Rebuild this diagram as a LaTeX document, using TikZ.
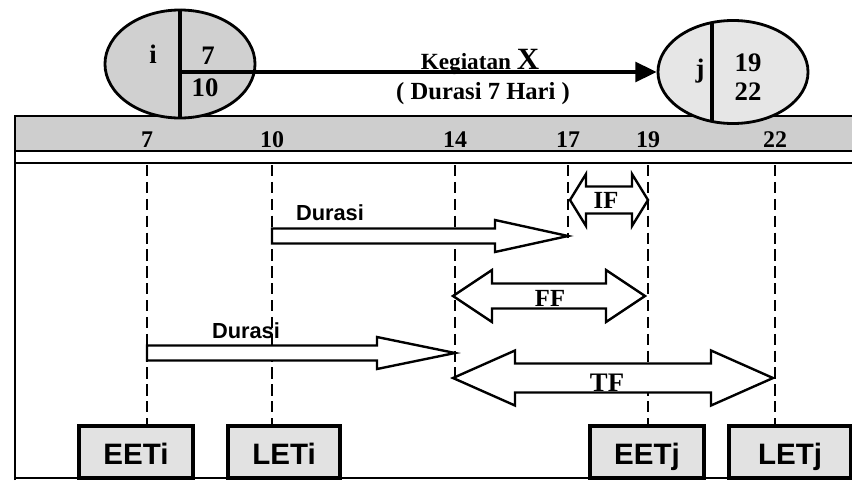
\documentclass[tikz,border=0pt]{standalone}
\usepackage{fontspec}
\setmainfont{Liberation Serif}
\setsansfont{Liberation Sans}
\usepackage{tikz}
\usetikzlibrary{shapes.geometric, arrows.meta, positioning}
\definecolor{eventfill}{RGB}{208, 208, 208}
\definecolor{eventfillj}{RGB}{230, 230, 230}
\definecolor{bandfill}{RGB}{206, 206, 206}
\definecolor{boxfill}{RGB}{226, 226, 226}

\newcommand{\durasiarrow}[4]{%
  \draw[fatarrow] (#1,#3-7.5) -- (#4,#3-7.5) -- (#4,#3-16) -- (#2,#3) -- (#4,#3+16) -- (#4,#3+7.5) -- (#1,#3+7.5) -- cycle;}
\newcommand{\floatarrow}[6]{%
  \draw[fatarrow] (#1,#3) -- (#1+#6,#3-#5) -- (#1+#6,#3-#4) -- (#2-#6,#3-#4) -- (#2-#6,#3-#5) -- (#2,#3)
    -- (#2-#6,#3+#5) -- (#2-#6,#3+#4) -- (#1+#6,#3+#4) -- (#1+#6,#3+#5) -- cycle;}

\begin{document}
\begin{tikzpicture}[x=0.025cm, y=-0.025cm,
    event/.style={ellipse, draw, line width=2pt, inner sep=0pt, minimum width=3.75cm},
    frameline/.style={line width=2pt},
    divider/.style={line width=2.4pt},
    guide/.style={line width=1.8pt, dash pattern=on 8pt off 4pt},
    fatarrow/.style={line width=1.7pt, fill=white, line join=miter},
    act/.style={line width=2.4pt, -{Triangle[length=15pt, width=14pt]}},
    timebox/.style={draw, line width=2.2pt, fill=boxfill, minimum height=1.3cm, text height=18pt, text depth=0pt,
      font=\sffamily\bfseries\fontsize{21}{21}\selectfont},
    evtext/.style={font=\bfseries\fontsize{19}{19}\selectfont},
    tick/.style={font=\bfseries\fontsize{17}{17}\selectfont},
    dur/.style={font=\sffamily\bfseries\fontsize{15.5}{15.5}\selectfont},
    slack/.style={font=\bfseries\fontsize{17.5}{17.5}\selectfont}]
  \useasboundingbox (0,0) rectangle (852,480);

  \fill[bandfill] (15,116) rectangle (852,150);
  \draw[frameline] (15,480) -- (15,116) -- (852,116);
  \draw[frameline] (15,151) -- (852,151);
  \draw[frameline] (15,163) -- (852,163);
  \draw[frameline] (15,478) -- (852,478);

  \foreach \t/\x in {7/147, 10/272, 14/455, 17/568, 19/648, 22/775} {
    \node[tick] (n\t) at (\x,140) {\t};
    \coordinate (g\t) at (\x,165);
  }

  \node[timebox, minimum width=2.85cm] (eeti) at (136,452) {EETi};
  \node[timebox, minimum width=2.8cm] (leti) at (284,452) {LETi};
  \node[timebox, minimum width=2.85cm] (eetj) at (647,452) {EETj};
  \node[timebox, minimum width=3.05cm] (letj) at (790,452) {LETj};

  \draw[guide] (g7) -- (g7 |- eeti.north);
  \draw[guide] (g10) -- (g10 |- leti.north);
  \draw[guide] (g19) -- (g19 |- eetj.north);
  \draw[guide] (g22) -- (g22 |- letj.north);
  \draw[guide] (g14) -- ++(0,213);
  \draw[guide] (g17) -- ++(0,73);

  \durasiarrow{272}{568}{236}{495}
  \durasiarrow{147}{455}{353}{377}
  \floatarrow{570}{648}{200}{13.5}{26}{16}
  \floatarrow{453}{645}{296}{12.5}{26}{39}
  \floatarrow{453}{773}{378}{14.5}{27.5}{62}

  \node[dur] (dur1) at (330,213) {Durasi};
  \node[dur] (dur2) at (246,331) {Durasi};
  \node[slack] (lblif) at (606,200) {IF};
  \node[slack] (lblff) at (550,298) {FF};
  \node[slack, font=\bfseries\fontsize{19}{19}\selectfont] (lbltf) at (607,383) {TF};

  \node[event, fill=eventfill, minimum height=2.7cm] (evi) at (180,64) {};
  \node[event, fill=eventfillj, minimum height=2.575cm] (evj) at (733,72) {};
  \draw[divider] (evi.north) -- (evi.south);
  \begin{scope}
    \clip (evj.center) ellipse [x radius=1.875cm, y radius=1.2875cm];
    \draw[divider] ([xshift=-0.525cm]evj.north) -- ([xshift=-0.525cm]evj.south);
  \end{scope}
  \draw[act] (evi.center |- evj.west) -- (evj.west);

  \node[evtext] (lbli) at (153,54) {i};
  \node[evtext] (ei) at (208,56) {7};
  \node[evtext] (li) at (205,88) {10};
  \node[evtext] (lblj) at (700,71) {j};
  \node[evtext, inner sep=1pt] (ej) at (748,63) {19};
  \node[evtext, inner sep=1pt] (lj) at (748,92) {22};

  \node[anchor=base, font=\bfseries\fontsize{16.5}{16.5}\selectfont] (lblact) at (480,69) {Kegiatan \fontsize{22}{22}\selectfont X};
  \node[font=\bfseries\fontsize{17.5}{17.5}\selectfont] (lbldur) at (483,94) {( Durasi 7 Hari )};
\end{tikzpicture}
\end{document}
